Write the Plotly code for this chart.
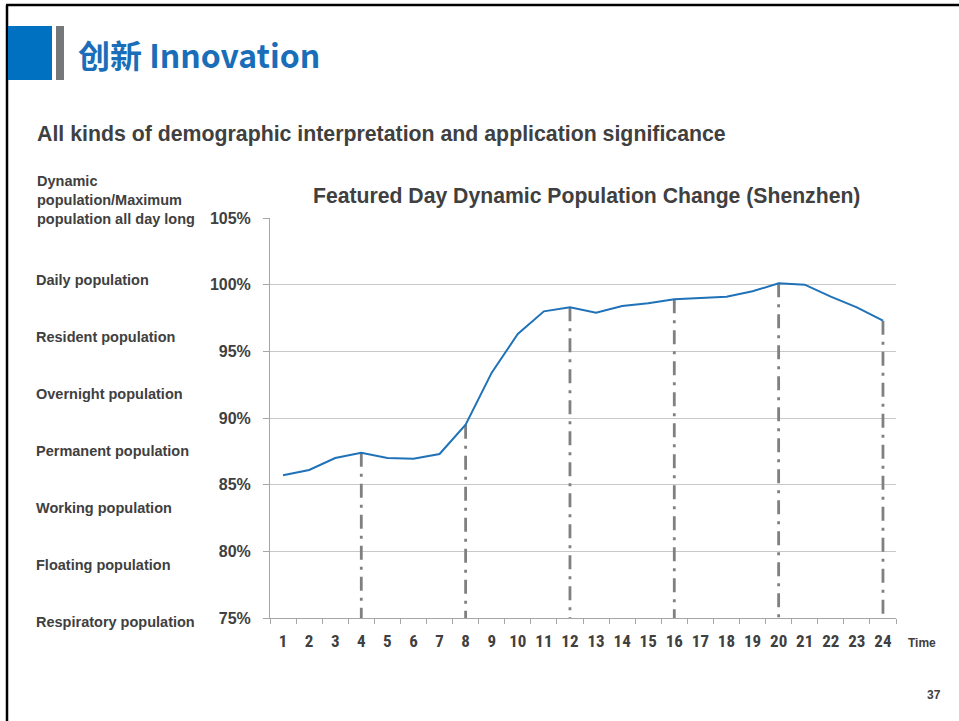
import plotly.graph_objects as go

hours = [str(h) for h in range(1, 25)]
values = [85.7, 86.1, 87.0, 87.4, 87.0, 86.95, 87.3, 89.5, 93.4, 96.3, 98.0, 98.3,
          97.9, 98.4, 98.6, 98.9, 99.0, 99.1, 99.5, 100.1, 100.0, 99.1, 98.3, 97.3]
marked_hours = ["4", "8", "12", "16", "20", "24"]
y_ticks = [75, 80, 85, 90, 95, 100, 105]
y_tick_labels = [f"{v}%" for v in y_ticks]
side_labels = ["Daily population", "Resident population", "Overnight population",
               "Permanent population", "Working population", "Floating population",
               "Respiratory population"]

W, H = 959, 721
L, R, T, B = 270, 896, 218, 618


def px(x):
    return (x - L) / (R - L)


def py(y):
    return (B - y) / (B - T)


fig = go.Figure()

# drop lines
for h in marked_hours:
    v = values[hours.index(h)]
    fig.add_trace(go.Scatter(x=[h, h], y=[v, 75], mode="lines",
                             line=dict(color="#808080", width=2.8, dash="14px,7px,3px,7px"),
                             hoverinfo="skip", showlegend=False))

fig.add_trace(go.Scatter(x=hours, y=values, mode="lines",
                         line=dict(color="#1F72B8", width=2), showlegend=False))

font_main = "Liberation Sans, Arial, sans-serif"
font_narrow = "Liberation Sans Narrow, Roboto Condensed, DejaVu Sans Condensed, Liberation Sans, sans-serif"

fig.update_layout(
    width=W, height=H,
    margin=dict(l=L, r=W - R, t=T, b=H - B),
    plot_bgcolor="white", paper_bgcolor="white",
    showlegend=False,
    xaxis=dict(type="category", categoryorder="array", categoryarray=hours,
               tickmode="array", tickvals=hours, ticktext=hours, tickangle=0,
               range=[-0.5, 23.5], showgrid=False, showline=True, linecolor="#A6A6A6",
               linewidth=1, ticks="outside", ticklen=5, tickcolor="#A6A6A6",
               tickson="boundaries", ticklabelstandoff=8,
               tickfont=dict(family=font_narrow, size=17, color="#404040", weight="bold"),
               zeroline=False),
    yaxis=dict(range=[75, 105], tickvals=y_ticks, ticktext=y_tick_labels,
               showgrid=True, gridcolor="#C8C8C8", gridwidth=1, showline=True,
               linecolor="#A6A6A6", linewidth=1, ticks="outside", ticklen=6,
               tickcolor="#A6A6A6", ticklabelstandoff=9,
               tickfont=dict(family=font_main, size=16, color="#404040", weight="bold"),
               zeroline=False),
)

shapes = []
# slide border (top & left)
shapes.append(dict(type="line", xref="paper", yref="paper", x0=px(6), x1=px(959),
                   y0=py(5), y1=py(5), line=dict(color="black", width=2.5)))
shapes.append(dict(type="line", xref="paper", yref="paper", x0=px(7), x1=px(7),
                   y0=py(5), y1=py(721), line=dict(color="black", width=2.5)))
# header blocks
shapes.append(dict(type="rect", xref="paper", yref="paper", x0=px(8), x1=px(52),
                   y0=py(80), y1=py(26), fillcolor="#0070C0", line=dict(width=0)))
shapes.append(dict(type="rect", xref="paper", yref="paper", x0=px(56), x1=px(64),
                   y0=py(80), y1=py(26), fillcolor="#75787B", line=dict(width=0)))
fig.update_layout(shapes=shapes)

ann = []
ann.append(dict(text="<b>创新 Innovation</b>", x=px(76), y=py(54), xref="paper", yref="paper",
                xanchor="left", yanchor="middle", showarrow=False,
                font=dict(family="Noto Sans CJK SC, sans-serif", size=32, color="#1A6DB8")))
ann.append(dict(text="<b>All kinds of demographic interpretation and application significance</b>",
                x=px(35), y=py(134), xref="paper", yref="paper", xanchor="left", yanchor="middle",
                showarrow=False, font=dict(family=font_main, size=21.3, color="#404040")))
ann.append(dict(text="<b>Featured Day Dynamic Population Change (Shenzhen)</b>",
                x=px(586), y=py(196), xref="paper", yref="paper", xanchor="center", yanchor="middle",
                showarrow=False, font=dict(family=font_main, size=21.2, color="#404040")))
ann.append(dict(text="<b>Dynamic<br>population/Maximum<br>population all day long</b>",
                x=px(35), y=py(200), xref="paper", yref="paper", xanchor="left", yanchor="middle",
                align="left", showarrow=False,
                font=dict(family=font_main, size=14.5, color="#404040")))
for i, lab in enumerate(side_labels):
    ann.append(dict(text=f"<b>{lab}</b>", x=px(34), y=py(280 + 57 * i), xref="paper", yref="paper",
                    xanchor="left", yanchor="middle", showarrow=False,
                    font=dict(family=font_main, size=14.5, color="#404040")))
ann.append(dict(text="<b>Time</b>", x=px(906), y=py(643), xref="paper", yref="paper",
                xanchor="left", yanchor="middle", showarrow=False,
                font=dict(family=font_main, size=12, color="#404040")))
ann.append(dict(text="<b>37</b>", x=px(943), y=py(695), xref="paper", yref="paper",
                xanchor="right", yanchor="middle", showarrow=False,
                font=dict(family=font_main, size=12, color="#404040")))
fig.update_layout(annotations=ann)

fig.write_html("out.html", config={"displayModeBar": False},
               post_script="document.body.style.margin='0';")
